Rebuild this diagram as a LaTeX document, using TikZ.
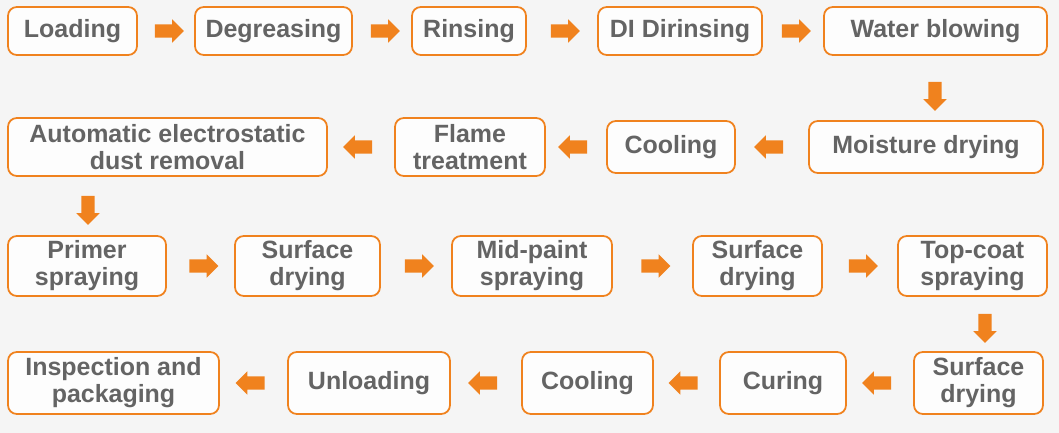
\documentclass[tikz,border=0pt]{standalone}
\usepackage{fontspec}
\setmainfont{Liberation Sans}
\usetikzlibrary{shapes.arrows,calc}
\definecolor{og}{RGB}{240,130,30}
\definecolor{tx}{RGB}{100,100,100}
\begin{document}
\begin{tikzpicture}[x=0.01cm,y=-0.01cm,
 stepbox/.style={draw=og,line width=0.5pt,rounded corners=2.5pt,fill=white,fill opacity=0.85,text opacity=1,
   text=tx,font=\fontsize{7.1}{7.7}\selectfont\bfseries,align=center,inner sep=0pt},
 arr/.style={single arrow,fill=og,draw=none,minimum height=0.29cm,text height=0pt,text depth=0pt,text width=0pt,inner xsep=0pt,inner ysep=0.06cm,single arrow head extend=0.05cm}]
\fill[gray!8] (0,0) rectangle (1059,433);
\def\bx#1#2#3#4#5#6{\node[stepbox,minimum width=#4*0.01cm-#2*0.01cm,minimum height=#5*0.01cm] (#1) at ({(#2+#4)/2},#3) {#6};}
\bx{a1}{8}{31}{137}{48}{Loading}
\bx{a2}{195}{31}{352}{48}{Degreasing}
\bx{a3}{412}{31}{526}{48}{Rinsing}
\bx{a4}{598}{31}{762}{48}{DI Dirinsing}
\bx{a5}{824}{31}{1047}{48}{Water blowing}
\bx{b1}{809}{147}{1043}{52}{Moisture drying}
\bx{b2}{607}{147}{735}{52}{Cooling}
\bx{b3}{395}{147}{545}{58}{Flame\\treatment}
\bx{b4}{8}{147}{327}{58}{Automatic electrostatic\\dust removal}
\bx{c1}{8}{266}{166}{60}{Primer\\spraying}
\bx{c2}{235}{266}{380}{60}{Surface\\drying}
\bx{c3}{452}{266}{612}{60}{Mid-paint\\spraying}
\bx{c4}{693}{266}{822}{60}{Surface\\drying}
\bx{c5}{898}{266}{1047}{60}{Top-coat\\spraying}
\bx{d1}{914}{383}{1043}{62}{Surface\\drying}
\bx{d2}{720}{383}{846}{62}{Curing}
\bx{d3}{522}{383}{653}{62}{Cooling}
\bx{d4}{288}{383}{450}{62}{Unloading}
\bx{d5}{8}{383}{219}{62}{Inspection and\\packaging}
\node[arr] (r1) at ($(a1.east)!0.5!(a2.west)$) {};
\node[arr] (r2) at ($(a2.east)!0.5!(a3.west)$) {};
\node[arr] (r3) at ($(a3.east)!0.5!(a4.west)$) {};
\node[arr] (r4) at ($(a4.east)!0.5!(a5.west)$) {};
\node[arr,rotate=-90] (v1) at (935,93) {};
\node[arr,rotate=180] (l1) at ($(b1.west)!0.5!(b2.east)$) {};
\node[arr,rotate=180] (l2) at ($(b2.west)!0.5!(b3.east)$) {};
\node[arr,rotate=180] (l3) at ($(b3.west)!0.5!(b4.east)$) {};
\node[arr,rotate=-90] (v2) at (88,207) {};
\node[arr] (s1) at ($(c1.east)!0.5!(c2.west)$) {};
\node[arr] (s2) at ($(c2.east)!0.5!(c3.west)$) {};
\node[arr] (s3) at ($(c3.east)!0.5!(c4.west)$) {};
\node[arr] (s4) at ($(c4.east)!0.5!(c5.west)$) {};
\node[arr,rotate=-90] (v3) at (985,325) {};
\node[arr,rotate=180] (t1) at ($(d1.west)!0.5!(d2.east)$) {};
\node[arr,rotate=180] (t2) at ($(d2.west)!0.5!(d3.east)$) {};
\node[arr,rotate=180] (t3) at ($(d3.west)!0.5!(d4.east)$) {};
\node[arr,rotate=180] (t4) at ($(d4.west)!0.5!(d5.east)$) {};
\end{tikzpicture}
\end{document}
